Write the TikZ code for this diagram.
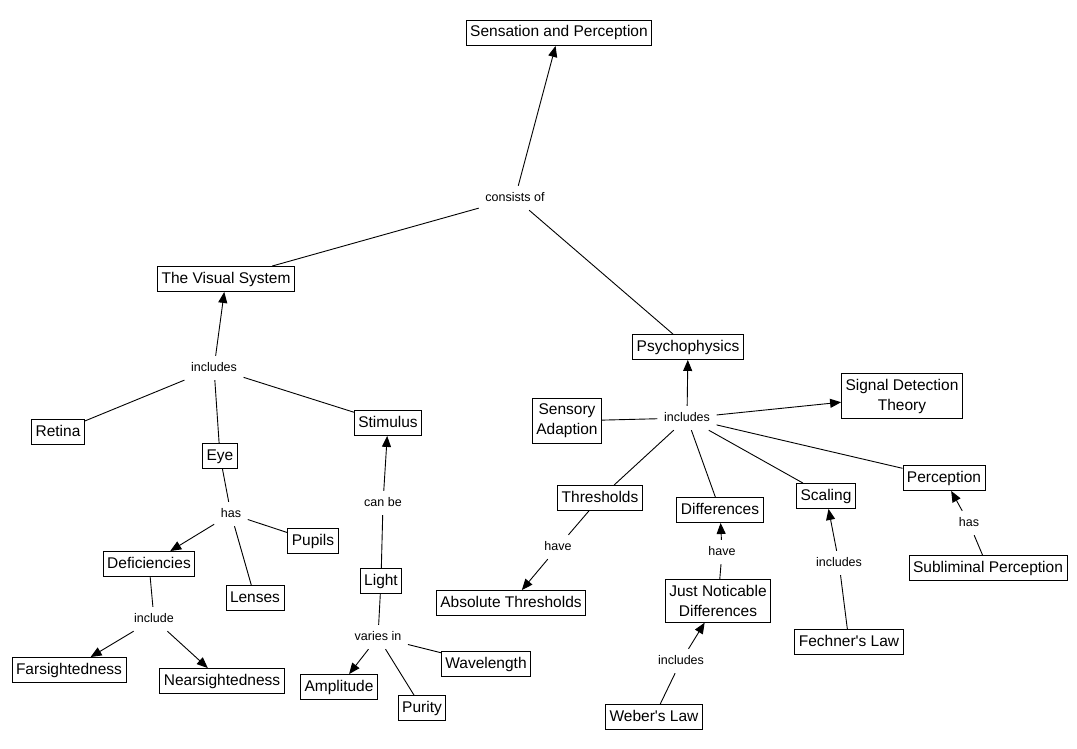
\documentclass[tikz,border=0pt]{standalone}
\usepackage{fontspec}
\setmainfont{Liberation Sans}
\usetikzlibrary{arrows.meta}
\begin{document}
\begin{tikzpicture}[x=1pt,y=-1pt,
  concept/.style={draw=black,line width=0.9pt,fill=white,font=\fontsize{15.5}{20}\selectfont,
    inner xsep=4pt,inner ysep=4.5pt,text height=12pt,text depth=4pt},
  concepttwo/.style={draw=black,line width=0.9pt,fill=white,font=\fontsize{15.5}{20}\selectfont,
    inner xsep=4pt,inner ysep=5.5pt,align=center},
  lbl/.style={font=\fontsize{12.5}{15}\selectfont,inner xsep=6.5pt,inner ysep=6pt,text height=9pt,text depth=3pt},
  conn/.style={line width=0.9pt},
  arr/.style={line width=0.9pt,-{Triangle[length=11pt,width=9pt]}}
]
\useasboundingbox (0,0) rectangle (1077,749);
\fill[white] (0,0) rectangle (1077,749);
% concepts
\node[concept] (sp) at (559,33) {Sensation and Perception};
\node[concept] (vs) at (226,279) {The Visual System};
\node[concept] (psy) at (688,347) {Psychophysics};
\node[concept] (retina) at (58,432) {Retina};
\node[concept] (eye) at (220,456) {Eye};
\node[concept] (stim) at (388,423) {Stimulus};
\node[concept] (pupils) at (313,541) {Pupils};
\node[concept] (def) at (149,564) {Deficiencies};
\node[concept] (lenses) at (255,598) {Lenses};
\node[concept] (far) at (69,670) {Farsightedness};
\node[concept] (near) at (222,681) {Nearsightedness};
\node[concept] (light) at (381,581) {Light};
\node[concept] (wave) at (486,664) {Wavelength};
\node[concept] (amp) at (339,687) {Amplitude};
\node[concept] (purity) at (422,708) {Purity};
\node[concepttwo] (sa) at (567,421) {Sensory\\Adaption};
\node[concepttwo] (sdt) at (902,396) {Signal Detection\\Theory};
\node[concept] (thr) at (600,498) {Thresholds};
\node[concept] (diff) at (720,510) {Differences};
\node[concept] (scal) at (826,496) {Scaling};
\node[concept] (perc) at (944,478) {Perception};
\node[concept] (abs) at (511,603) {Absolute Thresholds};
\node[concepttwo] (jnd) at (718,601) {Just Noticable\\Differences};
\node[concept] (fech) at (849,642) {Fechner\textquotesingle s Law};
\node[concept] (subl) at (988,568) {Subliminal Perception};
\node[concept] (weber) at (654,717) {Weber\textquotesingle s Law};
% linking phrases
\node[lbl] (cons) at (515,198) {consists of};
\node[lbl] (incv) at (214,368) {includes};
\node[lbl] (has1) at (231,514) {has};
\node[lbl] (incl) at (154,619) {include};
\node[lbl] (canbe) at (383,503) {can be};
\node[lbl] (varies) at (378,637) {varies in};
\node[lbl] (incp) at (687,418) {includes};
\node[lbl] (have1) at (558,547) {have};
\node[lbl] (have2) at (722,552) {have};
\node[lbl] (inc3) at (839,563) {includes};
\node[lbl] (has2) at (969,523) {has};
\node[lbl] (inc4) at (681,661) {includes};
% connectors
\draw[arr] (cons) -- (sp);
\draw[conn] (vs) -- (cons);
\draw[conn] (psy) -- (cons);
\draw[arr] (incv) -- (vs);
\draw[conn] (incv) -- (retina);
\draw[conn] (incv) -- (eye);
\draw[conn] (incv) -- (stim);
\draw[conn] (eye) -- (has1);
\draw[arr] (has1) -- (def);
\draw[conn] (has1) -- (pupils);
\draw[conn] (has1) -- (lenses);
\draw[conn] (def) -- (incl);
\draw[arr] (incl) -- (far);
\draw[arr] (incl) -- (near);
\draw[conn] (light) -- (canbe);
\draw[arr] (canbe) -- (stim);
\draw[conn] (light) -- (varies);
\draw[arr] (varies) -- (amp);
\draw[conn] (varies) -- (purity);
\draw[conn] (varies) -- (wave);
\draw[arr] (incp) -- (psy);
\draw[arr] (incp) -- (sdt);
\draw[conn] (sa) -- (incp);
\draw[conn] (incp) -- (thr);
\draw[conn] (incp) -- (diff);
\draw[conn] (incp) -- (scal);
\draw[conn] (incp) -- (perc);
\draw[conn] (thr) -- (have1);
\draw[arr] (have1) -- (abs);
\draw[conn] (jnd) -- (have2);
\draw[arr] (have2) -- (diff);
\draw[conn] (fech) -- (inc3);
\draw[arr] (inc3) -- (scal);
\draw[conn] (subl) -- (has2);
\draw[arr] (has2) -- (perc);
\draw[conn] (weber) -- (inc4);
\draw[arr] (inc4) -- (jnd);
\end{tikzpicture}
\end{document}
